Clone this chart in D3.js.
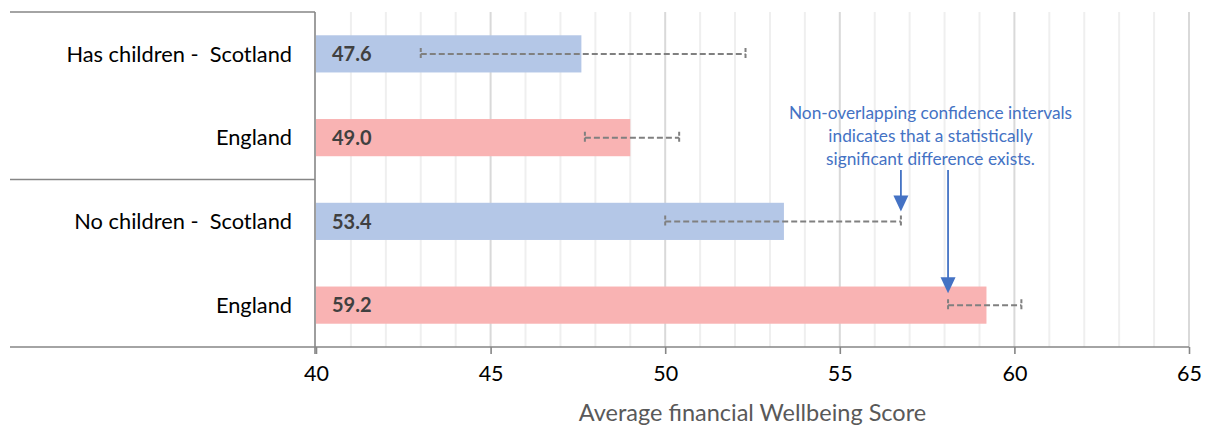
<!DOCTYPE html>
<html>
<head>
<meta charset="utf-8">
<script src="https://cdn.jsdelivr.net/npm/d3@7"></script>
<style>
  html, body { margin: 0; padding: 0; background: #fff; }
  svg text { font-family: Lato, "Open Sans", sans-serif; }
</style>
</head>
<body>
<svg id="chart" width="1211" height="429"></svg>
<script>
// Rows of the chart, top to bottom
const rowLabels = ["Has children -  Scotland", "England", "No children -  Scotland", "England"];
const nations = ["Scotland", "England", "Scotland", "England"];
// Average financial wellbeing score per row
const scores = [47.6, 49.0, 53.4, 59.2];
// 95% confidence interval bounds per row
const ciLow = [43.0, 47.7, 50.0, 58.1];
const ciHigh = [52.3, 50.4, 56.75, 60.2];
// Axis ticks
const majorTicks = [40, 45, 50, 55, 60, 65];
const minorTicks = d3.range(41, 65).filter(v => v % 5 !== 0);

const annotationLines = [
  "Non-overlapping confidence intervals",
  "indicates that a statistically",
  "significant difference exists."
];

const colors = { Scotland: "#b4c7e7", England: "#f9b3b3" };

const svg = d3.select("#chart");
const plot = { left: 316, right: 1189, top: 12, bottom: 347 };

const x = d3.scaleLinear().domain([40, 65]).range([plot.left, plot.right]);
const y = d3.scaleBand()
  .domain(d3.range(rowLabels.length))
  .range([plot.top, plot.bottom])
  .paddingInner(0.556)
  .paddingOuter(0.278);

// Gridlines
svg.append("g").selectAll("line").data(minorTicks).join("line")
  .attr("x1", d => x(d)).attr("x2", d => x(d))
  .attr("y1", plot.top).attr("y2", plot.bottom)
  .attr("stroke", "#efefef").attr("stroke-width", 2);
svg.append("g").selectAll("line").data(majorTicks.slice(1)).join("line")
  .attr("x1", d => x(d)).attr("x2", d => x(d))
  .attr("y1", plot.top).attr("y2", plot.bottom)
  .attr("stroke", "#d9d9d9").attr("stroke-width", 2);

// Bars
svg.append("g").selectAll("rect").data(scores).join("rect")
  .attr("x", x(40))
  .attr("y", (d, i) => y(i))
  .attr("width", d => x(d) - x(40))
  .attr("height", y.bandwidth())
  .attr("fill", (d, i) => colors[nations[i]]);

// Value labels inside bars
svg.append("g").selectAll("text").data(scores).join("text")
  .attr("x", x(40) + 16)
  .attr("y", (d, i) => y(i) + y.bandwidth() / 2)
  .attr("dy", "0.36em")
  .attr("font-size", 20)
  .attr("font-weight", "bold")
  .attr("fill", "#404040")
  .text(d => d.toFixed(1));

// Confidence interval whiskers
const ci = svg.append("g")
  .attr("stroke", "#808080").attr("stroke-width", 2)
  .attr("stroke-dasharray", "6,3").attr("fill", "none");
scores.forEach((s, i) => {
  const cy = y(i) + y.bandwidth() / 2;
  ci.append("line").attr("x1", x(ciLow[i])).attr("x2", x(ciHigh[i]))
    .attr("y1", cy).attr("y2", cy);
  [ciLow[i], ciHigh[i]].forEach(v => {
    ci.append("line").attr("x1", x(v)).attr("x2", x(v))
      .attr("y1", cy - 6).attr("y2", cy + 6)
      .attr("stroke-dasharray", "4,2");
  });
});

// Frame: category axis boxes and value axis
const axisColor = "#868686";
const frame = svg.append("g").attr("stroke", axisColor).attr("stroke-width", 1.6);
frame.append("line").attr("x1", 10).attr("x2", plot.left - 1).attr("y1", plot.top).attr("y2", plot.top);
frame.append("line").attr("x1", 10).attr("x2", plot.left - 1)
  .attr("y1", (y(1) + y.bandwidth() + y(2)) / 2).attr("y2", (y(1) + y.bandwidth() + y(2)) / 2);
frame.append("line").attr("x1", plot.left - 1).attr("x2", plot.left - 1).attr("y1", plot.top).attr("y2", plot.bottom + 7);
frame.append("line").attr("x1", 10).attr("x2", plot.right).attr("y1", plot.bottom).attr("y2", plot.bottom);

// Value axis ticks and labels
const xAxis = d3.axisBottom(x).tickValues(majorTicks).tickSize(7).tickPadding(12).tickFormat(d3.format("d"));
const gx = svg.append("g").attr("transform", `translate(0,${plot.bottom})`).call(xAxis);
gx.select(".domain").remove();
gx.selectAll(".tick line").attr("stroke", axisColor).attr("stroke-width", 1.6);
gx.selectAll(".tick text")
  .attr("font-family", "Lato, 'Open Sans', sans-serif")
  .attr("font-size", 21.5).attr("fill", "#000");

// Category labels
svg.append("g").selectAll("text").data(rowLabels).join("text")
  .attr("x", 292)
  .attr("y", (d, i) => y(i) + y.bandwidth() / 2)
  .attr("dy", "0.35em")
  .attr("text-anchor", "end")
  .attr("font-size", 21.8)
  .attr("fill", "#000")
  .style("white-space", "pre")
  .text(d => d);

// Axis title
svg.append("text")
  .attr("x", (plot.left + plot.right) / 2)
  .attr("y", 421)
  .attr("text-anchor", "middle")
  .attr("font-size", 23.5)
  .attr("fill", "#595959")
  .text("Average financial Wellbeing Score");

// Annotation with arrows to the non-overlapping interval ends
const noteColor = "#4472c4";
svg.append("g").selectAll("text").data(annotationLines).join("text")
  .attr("x", 930.5)
  .attr("y", (d, i) => 119 + i * 23)
  .attr("text-anchor", "middle")
  .attr("font-size", 17.3)
  .attr("fill", noteColor)
  .text(d => d);

const arrowTargets = [
  { v: ciHigh[2], row: 2, gap: 10 },
  { v: ciLow[3], row: 3, gap: 12 }
];
arrowTargets.forEach(a => {
  const ax = x(a.v);
  const tipY = y(a.row) + y.bandwidth() / 2 - a.gap;
  svg.append("line")
    .attr("x1", ax).attr("x2", ax)
    .attr("y1", 170).attr("y2", tipY - 14)
    .attr("stroke", noteColor).attr("stroke-width", 1.8);
  svg.append("path")
    .attr("d", `M${ax - 7.5},${tipY - 16} L${ax + 7.5},${tipY - 16} L${ax},${tipY} Z`)
    .attr("fill", noteColor);
});
</script>
</body>
</html>
